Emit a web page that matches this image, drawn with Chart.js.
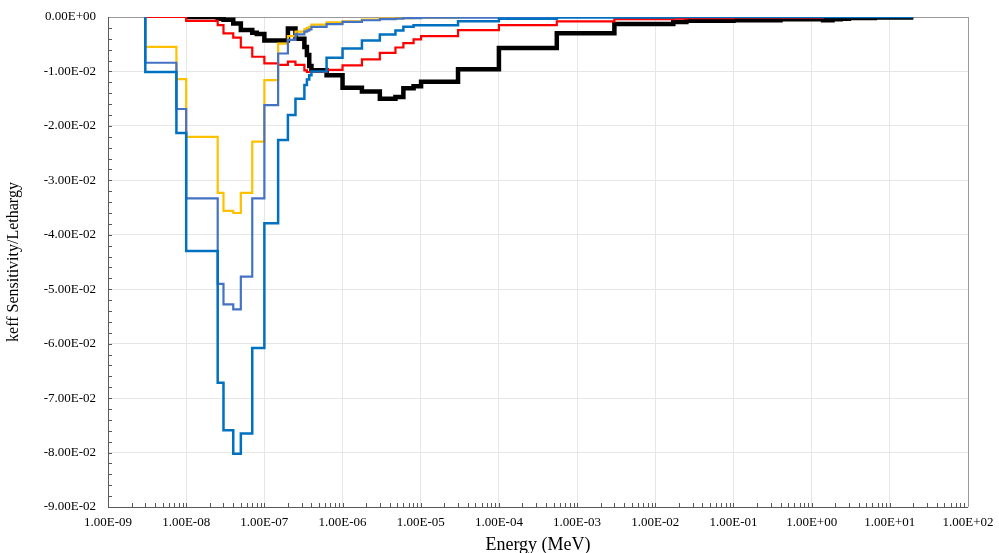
<!DOCTYPE html>
<html>
<head>
<meta charset="utf-8">
<script src="https://cdn.jsdelivr.net/npm/chart.js@4.4.1/dist/chart.umd.min.js"></script>
<style>
  html, body { margin: 0; padding: 0; background: #ffffff; }
  #wrap { width: 999px; height: 553px; }
</style>
</head>
<body>
<div id="wrap"><canvas id="c" width="999" height="553"></canvas></div>
<script>
// Energy group boundaries (MeV), lower edges followed by the final upper edge
const EDGES = [3e-9, 7.5e-9, 1e-8, 2.53e-8, 3e-8, 4e-8, 5e-8, 7e-8, 8e-8, 1e-7,
  1.5e-7, 2e-7, 2.5e-7, 3.25e-7, 3.5e-7, 3.75e-7, 4e-7, 6.25e-7, 1e-6, 1.77e-6,
  3e-6, 4.75e-6, 6e-6, 8.1e-6, 1.01e-5, 3e-5, 1e-4, 5.5e-4, 3e-3, 1.7e-2,
  2.5e-2, 0.1, 0.4, 0.9, 1.4, 1.85, 2.354, 2.479, 3, 4.8, 6.434, 8.187, 20];

// Sensitivity per lethargy for each group (null = not drawn)
const BLACK = [null, null, 0, -0.0003, -0.0005, -0.0012, -0.0024, -0.0029, -0.0031, -0.0043,
  -0.0043, -0.0021, -0.0040, -0.0055, -0.0070, -0.0090, -0.0098, -0.0107, -0.0130, -0.0137,
  -0.0150, -0.0147, -0.0131, -0.0127, -0.0119, -0.0096, -0.0057, -0.0030, -0.0013, -0.0009,
  -0.0007, -0.0006, -0.0004, -0.0004, -0.0006, -0.0004, -0.0003, -0.0003, -0.0002, -0.0002,
  -0.0001, -0.0001];
const RED = [0, 0, -0.0007, -0.0015, -0.0030, -0.0038, -0.0056, -0.0073, -0.0073, -0.0085,
  -0.0088, -0.0082, -0.0088, -0.0098, -0.0101, -0.0101, -0.0101, -0.0097, -0.0089, -0.0078,
  -0.0066, -0.0056, -0.0048, -0.0041, -0.0035, -0.0024, -0.0015, -0.0008, -0.0004, -0.0003,
  -0.0002, -0.0001, -0.0001, -0.0001, 0, 0, 0, 0, 0, 0,
  0, 0];
const YELLOW = [-0.0055, -0.0114, -0.0220, -0.0323, -0.0356, -0.0360, -0.0323, -0.0229, -0.0229, -0.0116,
  -0.0049, -0.0035, -0.0027, -0.0022, -0.0020, -0.0018, -0.0014, -0.0010, -0.0008, -0.0005,
  -0.0003, -0.0002, -0.0002, -0.0001, -0.0001, 0, 0, 0, 0, 0,
  0, 0, 0, 0, 0, 0, 0, 0, 0, 0,
  0, 0];
const SLATE = [-0.0084, -0.0169, -0.0333, -0.0490, -0.0528, -0.0537, -0.0477, -0.0333, -0.0333, -0.0162,
  -0.0067, -0.0042, -0.0032, -0.0027, -0.0025, -0.0023, -0.0018, -0.0013, -0.0009, -0.0006,
  -0.0004, -0.0003, -0.0002, -0.0002, -0.0001, -0.0001, 0, 0, 0, 0,
  0, 0, 0, 0, 0, 0, 0, 0, 0, 0,
  0, 0];
const BLUE = [-0.0101, -0.0213, -0.0430, -0.0672, -0.0759, -0.0802, -0.0765, -0.0608, -0.0608, -0.0379,
  -0.0226, -0.0180, -0.0150, -0.0125, -0.0115, -0.0107, -0.0100, -0.0075, -0.0058, -0.0043,
  -0.0032, -0.0025, -0.0018, -0.0015, -0.0015, -0.0008, -0.0003, -0.0001, -0.0001, 0,
  0, 0, 0, 0, 0, 0, 0, 0, 0, 0,
  0, 0];

const X_TICKS = [1e-9, 1e-8, 1e-7, 1e-6, 1e-5, 1e-4, 1e-3, 1e-2, 1e-1, 1e0, 1e1, 1e2];
const Y_MIN = -0.09, Y_MAX = 0, Y_STEP = 0.01, Y_MINOR = 0.002;
const X_TITLE = 'Energy (MeV)';
const Y_TITLE = 'keff Sensitivity/Lethargy';

function fmt(v) {
  const s = Number(v).toExponential(2);
  const parts = s.split('e');
  const n = parseInt(parts[1], 10);
  return parts[0] + 'E' + (n < 0 ? '-' : '+') + String(Math.abs(n)).padStart(2, '0');
}

function stepData(vals) {
  let start = vals.findIndex(v => v !== null);
  const pts = [{ x: EDGES[start], y: 0 }];
  for (let i = start; i < vals.length; i++) pts.push({ x: EDGES[i], y: vals[i] });
  pts.push({ x: EDGES[EDGES.length - 1], y: vals[vals.length - 1] });
  return pts;
}

const FONT = 'Liberation Serif, Times New Roman, serif';

const framePlugin = {
  id: 'frame',
  beforeDatasetsDraw(chart) {
    const { ctx, chartArea: a, scales } = chart;
    ctx.save();
    ctx.strokeStyle = '#595959';
    ctx.lineWidth = 1;
    ctx.beginPath();
    const ys = scales.y;
    const nMinor = Math.round((Y_MAX - Y_MIN) / Y_MINOR);
    for (let i = 0; i <= nMinor; i++) {
      const v = Y_MIN + i * Y_MINOR;
      const py = Math.round(ys.getPixelForValue(v)) + 0.5;
      ctx.moveTo(a.left, py);
      ctx.lineTo(a.left + 4, py);
    }
    const xs = scales.x;
    for (let d = 0; d < X_TICKS.length - 1; d++) {
      for (let k = 1; k <= 9; k++) {
        const v = X_TICKS[d] * k;
        const px = Math.round(xs.getPixelForValue(v)) + 0.5;
        ctx.moveTo(px, a.bottom);
        ctx.lineTo(px, a.bottom - 4);
      }
    }
    ctx.stroke();
    ctx.strokeStyle = '#9a9a9a';
    ctx.beginPath();
    ctx.moveTo(a.left, Math.round(a.top) + 0.5);
    ctx.lineTo(a.right, Math.round(a.top) + 0.5);
    ctx.moveTo(Math.round(a.right) + 0.5, a.top);
    ctx.lineTo(Math.round(a.right) + 0.5, a.bottom);
    ctx.stroke();
    ctx.strokeStyle = '#595959';
    ctx.beginPath();
    ctx.moveTo(Math.round(a.left) + 0.5, a.top);
    ctx.lineTo(Math.round(a.left) + 0.5, a.bottom);
    ctx.moveTo(a.left, Math.round(a.bottom) + 0.5);
    ctx.lineTo(a.right, Math.round(a.bottom) + 0.5);
    ctx.stroke();
    ctx.restore();
  }
};

const ds = (label, vals, color, width) => ({
  label, data: stepData(vals), borderColor: color, backgroundColor: color,
  borderWidth: width, pointRadius: 0, stepped: true, fill: false, tension: 0
});

new Chart(document.getElementById('c'), {
  type: 'line',
  data: {
    datasets: [
      ds('Series 5', BLUE, '#0070C0', 2.5),
      ds('Series 4', SLATE, '#4472C4', 2.2),
      ds('Series 3', YELLOW, '#FFC000', 2.2),
      ds('Series 2', RED, '#FF0000', 2.2),
      ds('Series 1', BLACK, '#000000', 4.5)
    ]
  },
  options: {
    responsive: false,
    animation: false,
    devicePixelRatio: 1,
    layout: { padding: { left: 4, right: 31, top: 17, bottom: 0 } },
    plugins: { legend: { display: false }, tooltip: { enabled: false } },
    scales: {
      x: {
        type: 'logarithmic', min: X_TICKS[0], max: X_TICKS[X_TICKS.length - 1],
        afterBuildTicks: s => { s.ticks = X_TICKS.map(v => ({ value: v })); },
        afterFit: s => { s.height = 46; s.paddingLeft = 0; s.paddingRight = 0; },
        ticks: { callback: v => fmt(v), autoSkip: false, maxRotation: 0, minRotation: 0,
          font: { family: FONT, size: 13 }, color: '#000', padding: 8 },
        grid: { color: '#e6e6e6', lineWidth: 1, drawTicks: false },
        border: { display: false },
        title: { display: true, text: X_TITLE, color: '#000', font: { family: FONT, size: 18, lineHeight: 0.9 }, padding: { top: 0, bottom: 0 } }
      },
      y: {
        min: Y_MIN, max: Y_MAX,
        afterFit: s => { s.width = 104; s.paddingTop = 0; s.paddingBottom = 0; },
        ticks: { stepSize: Y_STEP, callback: v => fmt(v), font: { family: FONT, size: 13 }, color: '#000', padding: 12 },
        grid: { color: '#e6e6e6', lineWidth: 1, drawTicks: false },
        border: { display: false },
        title: { display: true, text: Y_TITLE, color: '#000', font: { family: FONT, size: 16 }, padding: { top: 0, bottom: 0 } }
      }
    }
  },
  plugins: [framePlugin]
});
</script>
</body>
</html>
